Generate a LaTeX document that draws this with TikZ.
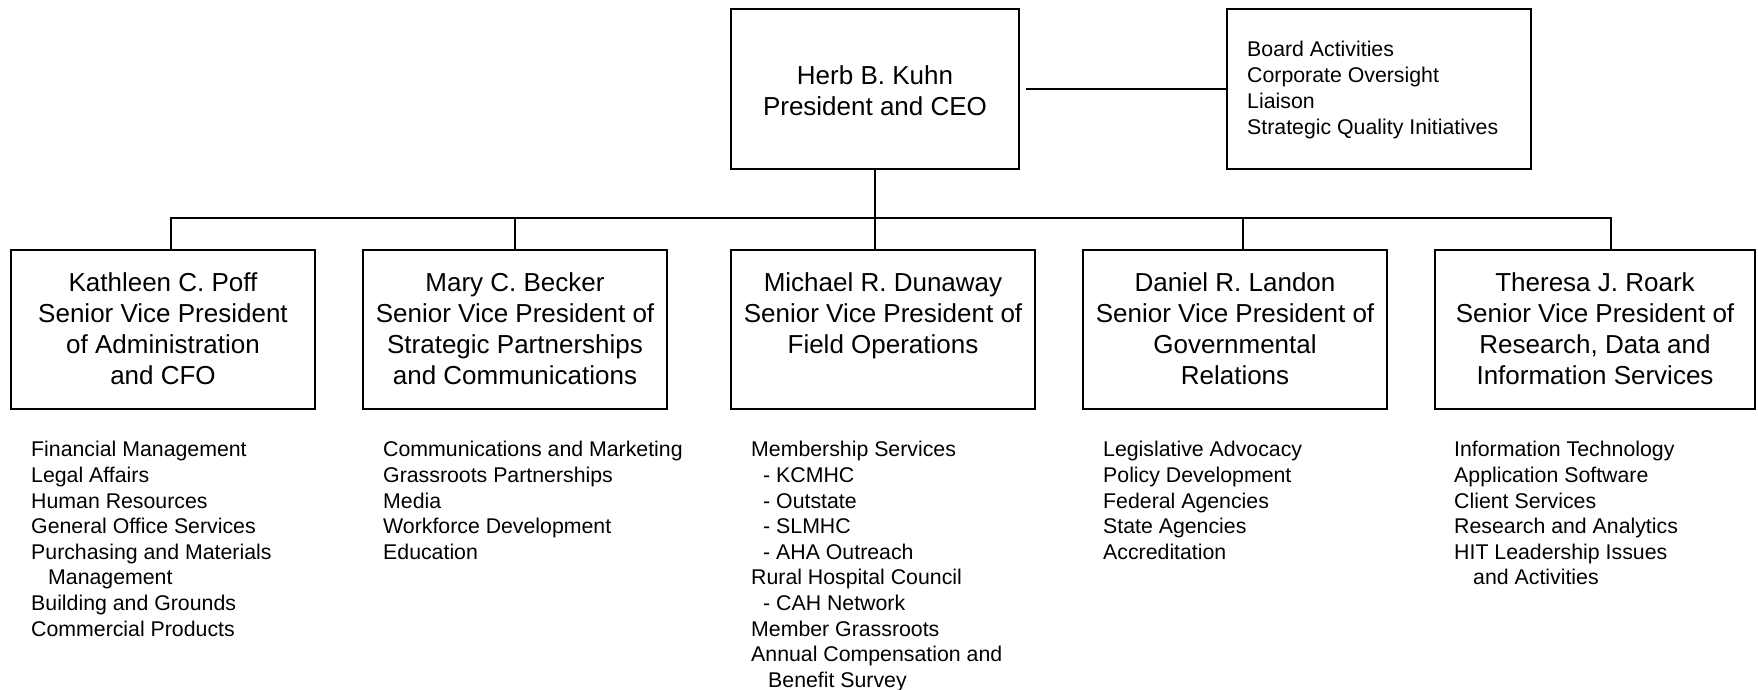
\documentclass[tikz,border=0pt]{standalone}
\usepackage{fontspec}
\setmainfont{Liberation Sans}
\begin{document}
\begin{tikzpicture}[x=1pt,y=-1pt,
  box/.style={draw, line width=2pt, rectangle, inner sep=0pt},
  boxtext/.style={font=\fontsize{26}{31}\selectfont, align=center, inner sep=0pt, anchor=north},
  sidetext/.style={font=\fontsize{21.3}{25.8}\selectfont, align=left, inner sep=0pt, anchor=north west},
  listtext/.style={font=\fontsize{21.3}{25.6}\selectfont, align=left, inner sep=0pt, anchor=north west},
  conn/.style={line width=2pt}]
\useasboundingbox (0,0) rectangle (1758,689);
% top boxes
\node[box, minimum width=288pt, minimum height=160pt] (ceo) at (875,89) {};
\node[boxtext] (ceot) at ([yshift=-54.3pt]ceo.north) {\strut Herb B. Kuhn\\President and CEO};
\node[box, minimum width=304pt, minimum height=160pt] (side) at (1379,89) {};
\node[sidetext] (sidet) at (1247,38.7) {\strut Board Activities\\Corporate Oversight\\Liaison\\Strategic Quality Initiatives};
% second row boxes
\node[box, minimum width=304pt, minimum height=159pt] (b1) at (163,329.5) {};
\node[box, minimum width=304pt, minimum height=159pt] (b2) at (515,329.5) {};
\node[box, minimum width=304pt, minimum height=159pt] (b3) at (883,329.5) {};
\node[box, minimum width=304pt, minimum height=159pt] (b4) at (1235,329.5) {};
\node[box, minimum width=320pt, minimum height=159pt] (b5) at (1595,329.5) {};
\node[boxtext] (t1) at ([yshift=-20.3pt]b1.north) {\strut Kathleen C. Poff\\Senior Vice President\\of Administration\\and CFO};
\node[boxtext] (t2) at ([yshift=-20.3pt]b2.north) {\strut Mary C. Becker\\Senior Vice President of\\Strategic Partnerships\\and Communications};
\node[boxtext] (t3) at ([yshift=-20.3pt]b3.north) {\strut Michael R. Dunaway\\Senior Vice President of\\Field Operations};
\node[boxtext] (t4) at ([yshift=-20.3pt]b4.north) {\strut Daniel R. Landon\\Senior Vice President of\\Governmental\\Relations};
\node[boxtext] (t5) at ([yshift=-20.3pt]b5.north) {\strut Theresa J. Roark\\Senior Vice President of\\Research, Data and\\Information Services};
% lists
\node[listtext] (l1) at (31,438.7) {\strut Financial Management\\Legal Affairs\\Human Resources\\General Office Services\\Purchasing and Materials\\\hspace*{17pt}Management\\Building and Grounds\\Commercial Products};
\node[listtext] (l2) at (383,438.7) {\strut Communications and Marketing\\Grassroots Partnerships\\Media\\Workforce Development\\Education};
\node[listtext] (l3) at (751,438.7) {\strut Membership Services\\\hspace*{12pt}- KCMHC\\\hspace*{12pt}- Outstate\\\hspace*{12pt}- SLMHC\\\hspace*{12pt}- AHA Outreach\\Rural Hospital Council\\\hspace*{12pt}- CAH Network\\Member Grassroots\\Annual Compensation and\\\hspace*{17pt}Benefit Survey};
\node[listtext] (l4) at (1103,438.7) {\strut Legislative Advocacy\\Policy Development\\Federal Agencies\\State Agencies\\Accreditation};
\node[listtext] (l5) at (1454,438.7) {\strut Information Technology\\Application Software\\Client Services\\Research and Analytics\\HIT Leadership Issues\\\hspace*{19pt}and Activities};
% connectors
\coordinate (busL) at (171,218);
\coordinate (busR) at (1611,218);
\coordinate (d4) at (1243,218);
\draw[conn, shorten <=6pt] (ceo.east) -- (side.west);
\draw[conn] (ceo.south) -- (ceo.south |- b3.north);
\draw[conn] (busL |- b1.north) -- (busL) -- (busR) -- (busR |- b5.north);
\draw[conn] (b2.north) -- (b2.north |- busL);
\draw[conn] (d4) -- (d4 |- b4.north);
\end{tikzpicture}
\end{document}
